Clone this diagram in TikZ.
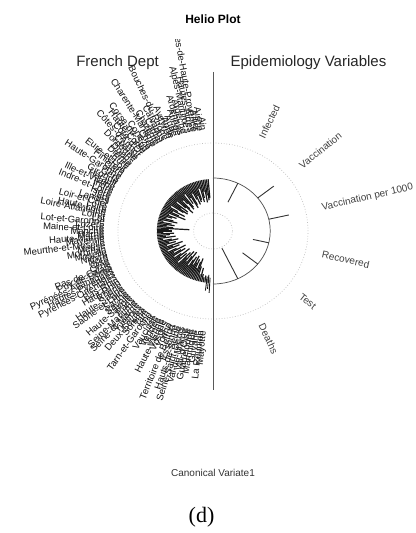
\documentclass[tikz,border=0pt]{standalone}
\usepackage{fontspec}
\setmainfont{Liberation Sans}
\newfontfamily\capfont{Liberation Serif}

\tikzset{
  deptlabel/.style={anchor=east, inner sep=0.5pt, text=black!92, font=\fontsize{9.5}{11}\selectfont},
  varlabel/.style={anchor=west, inner sep=0.5pt, text=black!75, font=\fontsize{10}{12}\selectfont},
  deptbar/.style={gray!20!black, line width=1.2pt},
  varbar/.style={black!80, line width=0.9pt},
  refcircle/.style={gray!55, dotted, line width=0.7pt},
}

\begin{document}
\begin{tikzpicture}[x=1.08pt, y=1pt]
\useasboundingbox (-197.22,-302) rectangle (187.96,231);
% ---- titles ----
\node[font=\fontsize{12}{14}\bfseries\selectfont] (title) at (0,212) {Helio Plot};
\node[font=\fontsize{15}{18}\selectfont, text=black!85] (xname) at (-88.4,168) {French Dept};
\node[font=\fontsize{15}{18}\selectfont, text=black!85] (yname) at (88.4,168) {Epidemiology Variables};
\node[font=\fontsize{10}{12}\selectfont, text=black!80] (sub) at (0,-242) {Canonical Variate1};
\node[font=\fontsize{22}{26}\capfont\selectfont] (panel) at (-10.6,-286) {(d)};
% ---- reference circles and the dividing line ----
\draw[refcircle] (0,0) circle[radius=88];
\draw[refcircle] (0,0) circle[radius=18];
\draw[gray!60!black, line width=0.7pt] (0,53) arc[start angle=90, end angle=-90, radius=53];
\coordinate (axtop) at (0,159);
\coordinate (axbot) at (0,-159);
\draw[gray!70!black, line width=0.8pt] (axtop) -- (axbot);
% ---- left: department bars ----
\foreach \r [count=\j, evaluate=\j as \ang using 93.3+1.7*\j] in
  {33,31,36,29,40,34,30,44,33,31, 38,29,35,42,30,27,39,33,45,30,
   28,36,41,31,26,34,44,30,37,29, 33,46,38,30,42,35,28,44,36,40,
   45,38,34,47,39,36,43,37,22,41, 38,46,36,40,44,35,47,39,33,42,
   36,45,30,40,34,46,38,29,42,35, 31,44,37,28,40,33,45,30,36,27,
   39,32,26,41,34,30,38,28,35,31, 40,33,29,37,45,38,44,47,45,48,46}
  \draw[deptbar] (\ang:52) -- (\ang:\r);
\foreach \a/\b [count=\k, evaluate=\k as \ang using 261.6+1.7*\k] in {46/60, 44/58, 47/62}
  \draw[deptbar, line width=0.9pt] (\ang:\a) -- (\ang:\b);
% ---- left: department names ----
\begin{scope}
\clip (-197.22,-302) rectangle (187.96,191);
\foreach \dep [count=\j, evaluate=\j as \ang using 93.3+1.7*\j] in
  {Ain, Aisne, Allier, Alpes-de-Haute-Provence, Hautes-Alpes, Alpes-Maritimes,
   Ardèche, Ardennes, Ariège, Aube, Aude, Aveyron, Bouches-du-Rhône, Calvados,
   Cantal, Charente, Charente-Maritime, Cher, Corrèze, Corse-du-Sud, Haute-Corse,
   Côte-d'Or, Côtes-d'Armor, Creuse, Dordogne, Doubs, Drôme, Eure, Eure-et-Loir,
   Finistère, Gard, Haute-Garonne, Gers, Gironde, Hérault, Ille-et-Vilaine, Indre,
   Indre-et-Loire, Isère, Jura, Landes, Loir-et-Cher, Loire, Haute-Loire,
   Loire-Atlantique, Loiret, Lot, Lot-et-Garonne, Lozère, Maine-et-Loire, Manche,
   Marne, Haute-Marne, Mayenne, Meurthe-et-Moselle, Meuse, Morbihan, Moselle,
   Nièvre, Nord, Oise, Orne, Pas-de-Calais, Puy-de-Dôme, Pyrénées-Atlantiques,
   Hautes-Pyrénées, Pyrénées-Orientales, Bas-Rhin, Haut-Rhin, Rhône, Haute-Saône,
   Saône-et-Loire, Sarthe, Savoie, Haute-Savoie, Paris, Seine-Maritime,
   Seine-et-Marne, Yvelines, Deux-Sèvres, Somme, Tarn, Tarn-et-Garonne, Var,
   Vaucluse, Vendée, Vienne, Haute-Vienne, Vosges, Yonne, Territoire de Belfort,
   Essonne, Hauts-de-Seine, Seine-Saint-Denis, Val-de-Marne, Val-d'Oise,
   Guadeloupe, Martinique, Guyane, La Réunion, Mayotte}
  \node[deptlabel, rotate=\ang+180] (dep\j) at (\ang:100) {\dep};
\end{scope}
% ---- right: variable bars and names ----
\foreach \v/\r [count=\i, evaluate=\i as \ang using 90-180*\i/7] in
  {Infected/32, Vaccination/72, Vaccination per 1000/72, Recovered/38, Test/35, Deaths/19} {
  \draw[varbar] (\ang:53) -- (\ang:\r);
  \node[varlabel, rotate=\ang] (var\i) at (\ang:103) {\v};
}
\end{tikzpicture}
\end{document}
